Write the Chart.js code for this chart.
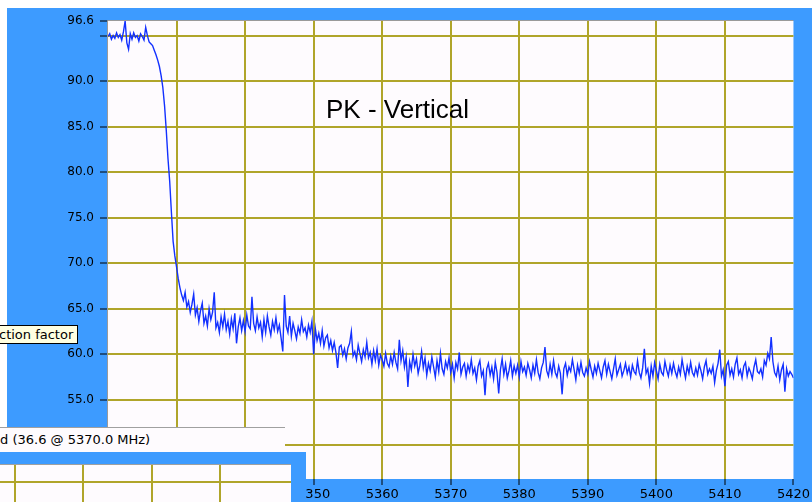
<!DOCTYPE html>
<html>
<head>
<meta charset="utf-8">
<script src="https://cdn.jsdelivr.net/npm/chart.js@4"></script>
<style>
  body { margin: 0; background: #fff; }
  #wrap { position: relative; width: 812px; height: 502px; overflow: hidden; }
  #graph { position: absolute; left: 0; top: 0; }
  .note { position: absolute; white-space: nowrap; color: #000; }
  #title { left: 326px; top: 96px; font: 26px/26px "Liberation Sans", Arial, sans-serif; }
  #tip { left: -1px; top: 325px; width: 77px; height: 17px; background: #ffffe1; border: 1px solid #000;
         font: 13px/17px "DejaVu Sans", sans-serif; overflow: hidden; text-indent: -1px; }
  #marker { left: 0; top: 427px; width: 285px; height: 24px; background: #fefbfe; border-top: 1px solid #a0a0a0;
            font: 13px/24px "DejaVu Sans", sans-serif; }
  #subframe { position: absolute; left: 0; top: 452px; width: 306px; height: 50px; background: #3d9bff; }
  #subplot { position: absolute; left: 0; top: 464px; width: 291px; height: 38px; background: #fefbfe;
             border-top: 1px solid #a0a0a0; overflow: hidden; }
  .vl { position: absolute; top: 0; width: 2px; height: 40px; background: #b0a52a; }
  .hl { position: absolute; left: 0; top: 16px; width: 291px; height: 2px; background: #b0a52a; }
</style>
</head>
<body>
<div id="wrap">
  <canvas id="graph" width="812" height="502"></canvas>
  <div class="note" id="title">PK - Vertical</div>
  <div class="note" id="tip">ction factor</div>
  <div class="note" id="marker">d (36.6 @ 5370.0 MHz)</div>
  <div id="subframe"></div>
  <div id="subplot">
    <div class="hl"></div>
    <div class="vl" style="left:14px"></div>
    <div class="vl" style="left:82px"></div>
    <div class="vl" style="left:151px"></div>
    <div class="vl" style="left:219px"></div>
  </div>
</div>
<script>
const freqStart = 5320;
const freqStep = 0.25;

// measured level, one value every 0.25 MHz from 5320 to 5420
const levels = [
  94.9, 95.2, 94.6, 95.0,  94.7, 95.3, 94.8, 95.1,  94.5, 95.4, 96.6, 94.2,  93.5, 95.2, 94.6, 95.3,
  94.8, 95.0, 94.4, 95.2,  94.9, 94.5, 95.9, 95.0,  94.3, 94.1, 93.9, 93.4,  92.9, 92.3, 91.6, 90.6,
  89.3, 87.3, 84.6, 81.5,  79.0, 75.6, 72.4, 70.8,  69.6, 68.3, 67.3, 66.5,  65.9, 66.8, 65.2, 65.8,
  64.6, 65.5, 66.6, 64.3,  65.1, 63.6, 64.8, 65.6,  63.4, 64.2, 63.1, 65.0,  63.8, 64.6, 66.8, 62.9,
  63.5, 62.4, 64.1, 63.0,  64.4, 62.7, 63.6, 62.2,  63.9, 62.8, 64.5, 61.2,  63.0, 64.0, 62.6, 63.7,
  62.5, 64.3, 63.1, 62.8,  66.3, 63.4, 62.6, 64.1,  62.9, 63.5, 61.9, 63.8,  62.4, 64.2, 63.0, 62.1,
  63.6, 62.7, 64.0, 62.5,  63.2, 61.8, 60.3, 66.5,  63.1, 62.4, 64.2, 62.0,  63.4, 62.6, 61.7, 63.0,
  62.3, 63.8, 62.5, 62.9,  61.9, 63.2, 62.4, 63.6,  60.0, 62.8, 61.5, 62.3,  61.2, 62.6, 60.9, 61.8,
  62.1, 60.7, 61.5, 60.4,  61.3, 60.2, 58.5, 60.8,  61.0, 59.9, 60.6, 59.5,  60.7, 61.2, 62.5, 59.8,
  60.3, 59.4, 61.0, 60.1,  59.2, 60.5, 59.7, 61.3,  59.6, 60.2, 58.9, 60.4,  59.3, 60.6, 58.8, 59.9,
  59.4, 58.7, 60.1, 59.0,  58.6, 59.8, 58.9, 60.2,  59.1, 58.4, 61.6, 59.3,  60.4, 58.6, 59.7, 56.4,
  59.2, 58.3, 60.0, 58.7,  59.5, 57.9, 58.8, 60.3,  58.5, 59.6, 57.7, 59.0,  58.2, 59.7, 58.6, 57.5,
  59.3, 58.1, 60.1, 58.4,  57.8, 59.2, 58.5, 59.6,  58.0, 58.9, 57.4, 59.1,  58.4, 60.2, 57.8, 58.6,
  59.0, 57.6, 58.8, 58.1,  59.4, 57.9, 58.5, 57.2,  58.7, 59.3, 57.6, 58.2,  55.5, 58.4, 59.0, 57.7,
  58.6, 57.3, 59.1, 58.0,  55.7, 58.3, 59.5, 57.8,  58.9, 57.4, 58.2, 59.3,  57.6, 58.7, 57.9, 58.8,
  57.5, 59.2, 58.1, 58.6,  57.7, 59.0, 58.3, 57.4,  58.8, 57.9, 59.4, 58.0,  57.3, 58.5, 59.1, 60.8,
  58.2, 57.6, 58.9, 57.8,  59.3, 58.0, 57.5, 58.7,  57.9, 55.6, 58.4, 59.0,  57.7, 58.6, 58.1, 59.4,
  58.3, 57.2, 58.8, 57.9,  59.1, 58.0, 57.6, 58.5,  57.8, 59.2, 58.3, 57.5,  58.7, 57.9, 59.0, 58.2,
  57.4, 58.6, 59.3, 57.8,  58.9, 58.1, 57.3, 58.4,  59.5, 57.7, 58.3, 58.9,  57.6, 58.2, 59.0, 57.9,
  58.6, 57.5, 58.8, 58.1,  57.8, 59.3, 58.0, 57.4,  58.5, 60.6, 57.9, 58.4,  56.8, 58.7, 57.6, 59.1,
  58.2, 57.3, 58.9, 58.0,  57.7, 59.2, 58.3, 57.6,  58.8, 57.9, 59.0, 58.1,  57.5, 58.6, 57.8, 59.4,
  58.3, 57.4, 58.7, 57.9,  59.1, 58.0, 57.6, 58.5,  57.7, 58.9, 58.2, 57.3,  58.6, 59.3, 57.8, 58.4,
  57.9, 58.7, 56.9, 58.2,  59.0, 60.5, 57.6, 58.3,  56.5, 58.8, 59.2, 57.7,  58.4, 57.5, 58.9, 59.6,
  57.8, 58.3, 57.4, 58.7,  59.1, 57.6, 58.5, 58.0,  57.3, 58.6, 59.4, 58.1,  57.9, 58.4, 57.5, 59.3,
  58.8, 60.1, 59.5, 61.9,  59.2, 58.0, 57.6, 58.7,  57.2, 58.3, 58.9, 55.9,  58.4, 57.6, 58.1, 57.8,
  57.4
];

const xTicks = [5320, 5330, 5340, 5350, 5360, 5370, 5380, 5390, 5400, 5410, 5420];
const yTicks = [50, 55, 60, 65, 70, 75, 80, 85, 90, 95, 96.6];
const yHiddenLabels = [95];

const frameBlue = '#3d9bff';
const plotBg = '#fefbfe';
const gridOlive = '#b0a52a';

const points = levels.map((v, i) => ({ x: freqStart + i * freqStep, y: v }));

const framePlugin = {
  id: 'frame',
  beforeDraw(chart) {
    const { ctx, chartArea: a, width, height } = chart;
    ctx.save();
    ctx.fillStyle = '#fff';
    ctx.fillRect(0, 0, width, height);
    ctx.fillStyle = frameBlue;
    ctx.fillRect(7, 8, width - 7, height - 8);
    ctx.fillStyle = plotBg;
    ctx.fillRect(a.left, a.top, a.right - a.left, a.bottom - a.top);
    ctx.restore();
  },
  afterDatasetsDraw(chart) {
    const { ctx, chartArea: a } = chart;
    ctx.save();
    ctx.strokeStyle = '#9a9a9a';
    ctx.lineWidth = 1;
    ctx.beginPath();
    ctx.moveTo(a.left - 0.5, a.bottom);
    ctx.lineTo(a.left - 0.5, a.top - 0.5);
    ctx.lineTo(a.right, a.top - 0.5);
    ctx.stroke();
    ctx.restore();
  }
};

new Chart(document.getElementById('graph'), {
  type: 'line',
  data: {
    datasets: [{
      data: points,
      borderColor: '#1230ff',
      borderWidth: 1.4,
      pointRadius: 0,
      tension: 0,
      fill: false
    }]
  },
  options: {
    responsive: false,
    animation: false,
    layout: { padding: { top: 21, right: 16, bottom: 0, left: 0 } },
    plugins: { legend: { display: false }, tooltip: { enabled: false } },
    scales: {
      x: {
        type: 'linear',
        min: 5320,
        max: 5420,
        afterBuildTicks: s => { s.ticks = xTicks.map(v => ({ value: v })); },
        afterFit: s => { s.height = 23; },
        border: { display: false },
        grid: {
          color: c => (c.tick && (c.tick.value === 5320 || c.tick.value === 5420)) ? 'rgba(0,0,0,0)' : gridOlive,
          lineWidth: 2,
          tickColor: '#000',
          tickLength: 6,
          tickWidth: 1
        },
        ticks: {
          color: '#000',
          padding: 2,
          maxRotation: 0,
          autoSkip: false,
          font: { family: 'DejaVu Sans', size: 13 },
          callback: v => String(v)
        }
      },
      y: {
        min: 46.3,
        max: 96.6,
        afterBuildTicks: s => { s.ticks = yTicks.map(v => ({ value: v })); },
        afterFit: s => { s.width = 108; },
        border: { display: false },
        grid: {
          color: c => (c.tick && c.tick.value === 96.6) ? 'rgba(0,0,0,0)' : gridOlive,
          lineWidth: 2,
          tickColor: '#000',
          tickLength: 8,
          tickWidth: 1
        },
        ticks: {
          color: '#000',
          padding: 6,
          autoSkip: false,
          font: { family: 'DejaVu Sans', size: 12 },
          callback: v => yHiddenLabels.includes(v) ? '' : Number(v).toFixed(1)
        }
      }
    }
  },
  plugins: [framePlugin]
});
</script>
</body>
</html>
